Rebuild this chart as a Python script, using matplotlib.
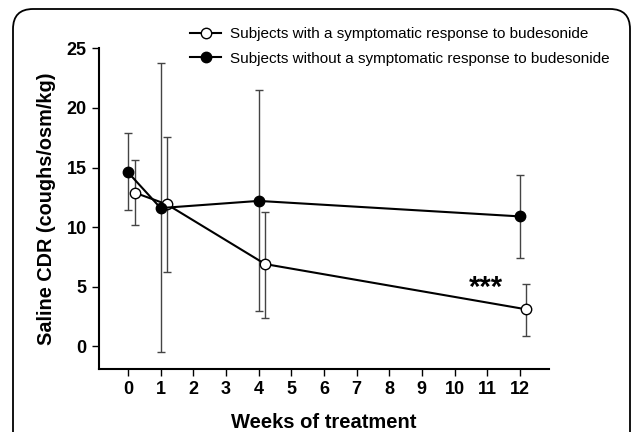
#!/usr/bin/env python3
import matplotlib
matplotlib.use("Agg")
import matplotlib.pyplot as plt
from matplotlib.patches import FancyBboxPatch

plt.rcParams['font.family'] = ['Liberation Sans', 'DejaVu Sans']

weeks = [0, 1, 4, 12]
resp_mean = [12.9, 11.9, 6.9, 3.1]
resp_upper = [15.6, 17.6, 11.3, 5.2]
resp_lower = [10.2, 6.2, 2.4, 0.9]
nonresp_mean = [14.6, 11.6, 12.2, 10.9]
nonresp_upper = [17.9, 23.8, 21.5, 14.4]
nonresp_lower = [11.4, -0.5, 3.0, 7.4]
shift = 0.2

fig = plt.figure(figsize=(6.32, 4.32), dpi=100)
ax = fig.add_axes([0.156, 0.146, 0.713, 0.742])

# rounded frame round the figure, cut at right and bottom
frame = FancyBboxPatch((0.13, -1.0), 6.17, 4.23 + 1.0,
                       boxstyle="round,pad=0,rounding_size=0.2",
                       transform=fig.dpi_scale_trans, fill=False,
                       edgecolor="black", linewidth=1.3, clip_on=False)
fig.patches.append(frame)

x_resp = [w + shift for w in weeks]
err_resp = [[m - l for m, l in zip(resp_mean, resp_lower)],
            [u - m for m, u in zip(resp_mean, resp_upper)]]
err_non = [[m - l for m, l in zip(nonresp_mean, nonresp_lower)],
           [u - m for m, u in zip(nonresp_mean, nonresp_upper)]]

ax.errorbar(weeks, nonresp_mean, yerr=err_non, fmt='none', ecolor="#444444",
            elinewidth=1, capsize=3, capthick=1, zorder=1)
ax.errorbar(x_resp, resp_mean, yerr=err_resp, fmt='none', ecolor="#444444",
            elinewidth=1, capsize=3, capthick=1, zorder=1)

ax.plot(x_resp, resp_mean, color="black", lw=1.5, marker='o', ms=7.5,
        mfc="white", mec="black", mew=1,
        label="Subjects with a symptomatic response to budesonide", zorder=3)
ax.plot(weeks, nonresp_mean, color="black", lw=1.5, marker='o', ms=7.5,
        mfc="black", mec="black",
        label="Subjects without a symptomatic response to budesonide", zorder=3)

ax.text(10.95, 4.9, "***", fontsize=21, fontweight='bold', ha='center', va='center')

ax.set_xlim(-0.9, 12.9)
ax.set_ylim(-1.9, 25)
ax.set_xticks(range(0, 13))
ax.set_yticks([0, 5, 10, 15, 20, 25])
for s in ['top', 'right']:
    ax.spines[s].set_visible(False)
for s in ['left', 'bottom']:
    ax.spines[s].set_linewidth(1.5)
ax.spines['left'].set_bounds(-1.9, 25)
ax.tick_params(direction='out', length=5, width=1, labelsize=13)
for lab in ax.get_xticklabels() + ax.get_yticklabels():
    lab.set_fontweight('bold')
    lab.set_family(['Liberation Sans Narrow', 'Liberation Sans', 'DejaVu Sans'])

ax.set_xlabel("Weeks of treatment", fontsize=14.5, fontweight='bold', labelpad=11)
ax.set_ylabel("Saline CDR (coughs/osm/kg)", fontsize=14.3, fontweight='bold', labelpad=8)

ax.legend(loc='upper left', bbox_to_anchor=(0.19, 1.085), frameon=False,
          fontsize=11, handlelength=2.0, handletextpad=0.6, labelspacing=0.68,
          borderaxespad=0)

fig.savefig("out.png", dpi=100)
